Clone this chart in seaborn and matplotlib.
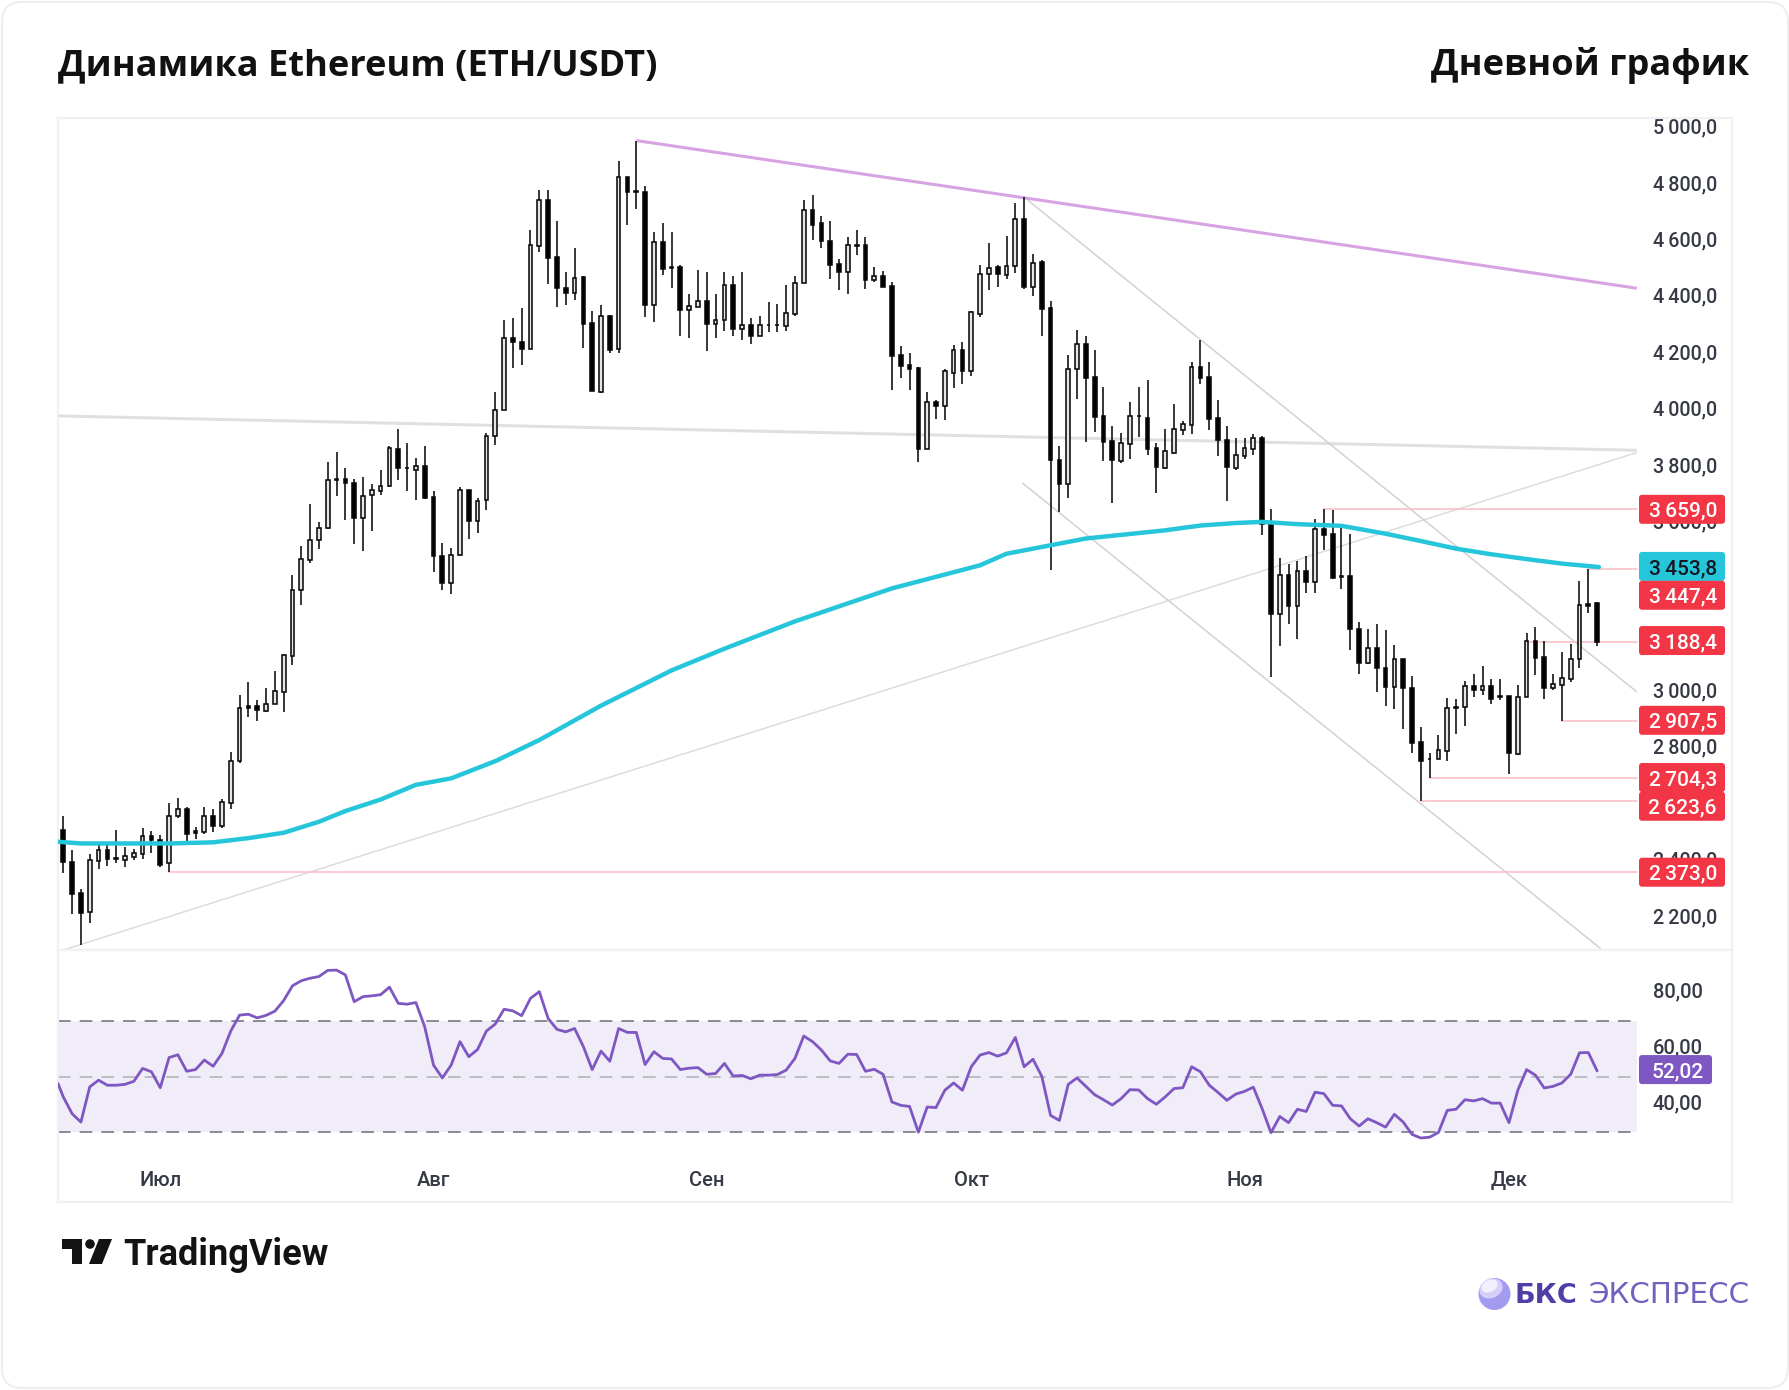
import numpy as np
import pandas as pd
import seaborn as sns
import matplotlib.pyplot as plt
from matplotlib.patches import FancyBboxPatch, Polygon, Circle, Ellipse
from matplotlib.transforms import IdentityTransform, ScaledTranslation

# daily candles
opens = [2521,2408,2296,2229,2411,2450,2421,2413,2425,2436,2498,2484,2402,2569,2594,2517,2513,2569,2536,2617,
         2767,2959,2959,2944,2969,3011,3138,3372,3478,3551,3593,3766,3766,3751,3628,3709,3724,3741,3874,3806,
         3797,3814,3703,3492,3396,3497,3726,3618,3690,3918,4012,4265,4253,4227,4592,4757,4553,4445,4426,4482,
         4319,4075,4343,4227,4839,4787,4786,4383,4607,4518,4518,4367,4376,4396,4317,4331,4456,4299,4313,4274,
         4314,4314,4310,4350,4462,4721,4674,4612,4530,4501,4596,4595,4471,4486,4450,4205,4169,4159,3874,4039,
         4024,4143,4225,4149,4350,4492,4518,4491,4523,4690,4449,4537,4374,3835,3747,4156,4246,4128,3990,3900,
         3830,3891,3991,3984,3876,3806,3859,3939,3956,4163,4128,3984,3906,3806,3849,3873,3913,3608,3286,3427,
         3316,3440,3401,3588,3570,3422,3421,3235,3114,3168,3097,3029,3127,3026,2832,2774,2772,2802,2958,2958,
         3031,3017,3031,2995,2995,2792,2993,3192,3133,3023,3037,3058,3126,3324,3326]
highs = [2569,2450,2313,2436,2479,2469,2521,2460,2454,2527,2517,2502,2617,2636,2604,2533,2604,2594,2629,2796,
         3001,3046,2982,3026,3084,3146,3426,3530,3678,3613,3828,3863,3805,3766,3774,3747,3799,3882,3945,3893,
         3839,3882,3724,3540,3522,3738,3726,3699,3930,4074,4332,4338,4374,4648,4793,4793,4680,4500,4584,4488,
         4362,4385,4348,4894,4839,4967,4804,4642,4674,4643,4524,4422,4506,4499,4422,4499,4488,4499,4338,4344,
         4393,4387,4456,4487,4757,4774,4698,4680,4545,4624,4650,4624,4518,4505,4465,4237,4213,4163,4075,4045,
         4157,4243,4254,4361,4524,4603,4524,4627,4745,4766,4565,4542,4397,3883,4205,4296,4272,4225,4092,3954,
         3930,4038,4092,4116,3895,3942,4033,3972,4181,4260,4181,4045,3954,3913,3913,3925,3917,3661,3487,3464,
         3475,3492,3623,3659,3655,3594,3570,3259,3235,3253,3229,3176,3127,3066,2887,2795,2857,2990,2984,3049,
         3073,3103,3056,3056,2995,3037,3218,3241,3192,3073,3152,3182,3404,3447.4,3330]
lows = [2367,2221,2113,2190,2383,2392,2402,2390,2413,2417,2440,2390,2373,2565,2479,2488,2508,2513,2527,2594,
        2759,2921,2909,2940,2969,2940,3107,3319,3469,3517,3590,3705,3622,3536,3511,3582,3709,3738,3761,3724,
        3690,3695,3436,3374,3359,3493,3555,3574,3657,3886,4012,4161,4172,4227,4573,4459,4376,4382,4400,4232,
        4077,4071,4214,4214,4669,4724,4341,4323,4491,4443,4274,4268,4376,4220,4268,4293,4274,4261,4244,4274,
        4286,4286,4293,4346,4462,4615,4586,4476,4435,4423,4562,4441,4465,4449,4083,4124,4083,3825,3874,3980,
        3974,4089,4102,4131,4341,4435,4447,4477,4497,4441,4417,4274,3442,3649,3700,4051,3897,3933,3830,3681,
        3824,3837,3915,3850,3718,3800,3854,3921,3927,4102,3939,3849,3688,3799,3837,3850,3566,3064,3173,3250,
        3200,3363,3363,3513,3412,3377,3161,3076,3111,3011,2962,2951,2878,2795,2623.6,2704.3,2772,2765,2861,2890,
        2991,3001,2969,2981,2721,2786,2993,3070,2985,3017,2907.5,3046,3094,3291,3173]
closes = [2406,2292,2227,2413,2450,2417,2417,2427,2438,2498,2486,2398,2569,2594,2508,2510,2569,2536,2619,2767,
          2952,2952,2946,2969,3013,3142,3372,3482,3551,3593,3761,3763,3751,3628,3707,3726,3743,3876,3805,3804,
          3814,3699,3492,3396,3497,3726,3618,3688,3918,4012,4265,4252,4227,4595,4757,4550,4443,4426,4480,4317,
          4077,4343,4225,4839,4784,4784,4383,4607,4510,4516,4364,4380,4396,4317,4331,4456,4299,4313,4274,4313,
          4312,4312,4356,4462,4721,4669,4610,4526,4501,4595,4594,4473,4486,4449,4202,4168,4155,3874,4039,4024,
          4148,4225,4148,4357,4493,4515,4492,4521,4690,4447,4534,4371,3832,3747,4157,4246,4125,3986,3897,3832,
          3893,3990,3989,3874,3809,3864,3942,3960,4163,4125,3980,3903,3809,3851,3876,3913,3608,3286,3427,3316,
          3440,3401,3588,3569,3416,3420,3233,3114,3168,3096,3029,3127,3023,2831,2765,2772,2804,2953,2952,3031,
          3017,3031,2987,2993,2794,2993,3192,3131,3023,3038,3060,3127,3318,3316,3188.4]

# EMA line, vertices read at these candle numbers
ema_x = [-0.6,2,6,12,17,21,25,29,32,36,40,44,49,54,61,69,75,83,94,99,104,107,111,116,125,129,133,136,140,145,150,154,158,162,166,170,174.2]
ema_y = [2479,2473,2473,2473,2477,2492,2511,2550,2588,2629,2681,2704,2765,2840,2962,3087,3164,3261,3378,3419,3460,3501,3525,3555,3584,3601,3610,3614,3606,3600,3572,3546,3519,3499,3482,3466,3453.8]

# RSI, one value a candle; the first is at the left edge of the panel
rsi_left = 47.5
rsi = [42.7,36.7,33.7,46.3,48.7,46.9,46.9,47.2,48.3,52.9,51.7,46.0,56.8,57.8,51.9,52.5,55.9,53.7,58.3,66.3,
       72.0,72.3,71.0,71.9,73.4,77.2,82.5,84.3,85.2,85.8,88.0,88.1,86.4,76.8,78.6,78.9,79.3,82.0,76.2,75.9,
       76.5,67.8,54.1,49.5,54.1,62.5,57.1,59.7,66.3,68.8,74.1,73.5,71.8,78.0,80.4,70.8,66.9,66.0,67.2,60.7,
       52.5,59.1,55.5,67.2,65.8,65.8,54.3,58.9,56.5,56.3,52.5,53.0,53.2,50.8,51.1,54.7,50.2,50.4,49.2,50.5,
       50.5,50.7,52.3,56.5,64.5,62.5,59.5,55.6,54.7,58.0,57.9,51.9,52.6,50.8,40.9,39.7,39.3,30.1,39.1,38.9,
       45.1,47.7,45.1,53.5,57.7,58.6,57.3,58.5,64.0,53.5,56.2,50.1,36.1,34.3,47.2,49.5,46.5,43.5,41.7,39.8,
       42.1,45.3,45.2,42.1,40.1,42.7,45.7,46.0,53.5,51.7,46.9,44.3,41.5,43.7,44.7,46.2,38.5,29.9,35.7,33.5,
       38.3,37.5,44.4,43.9,39.7,39.5,34.9,32.3,34.9,33.5,31.9,36.5,33.7,29.3,28.0,28.3,30.0,37.9,38.3,41.7,
       41.3,42.1,40.5,40.5,33.5,45.1,52.5,50.5,45.9,46.5,47.7,50.8,58.5,58.6,52.02]

# drawn lines: (x0, y0, x1, y1)
purple_line = (65, 4967, 178.5, 4443)
flat_line = (-0.6, 3990, 178.5, 3868)
rising_line = (-0.3, 2092, 178.5, 3860)
upper_line = (109, 4766, 178.5, 3011)
lower_line = (108.8, 3752, 174.4, 2100)

# thin red levels: start candle, price
level_x = [143, 173, 166, 170, 155, 154, 12]
level_y = [3659.0, 3447.4, 3188.4, 2907.5, 2704.3, 2623.6, 2373.0]

# price boxes on the right: centre of box, text, colour, text colour
box_y = [3658.6, 3456, 3353.6, 3193, 2910, 2707, 2605, 2371]
box_text = ['3\u2009659,0', '3\u2009453,8', '3\u2009447,4', '3\u2009188,4', '2\u2009907,5', '2\u2009704,3', '2\u2009623,6', '2\u2009373,0']
box_color = ['#f23645', '#26c6da', '#f23645', '#f23645', '#f23645', '#f23645', '#f23645', '#f23645']
box_tcolor = ['white', '#131722', 'white', 'white', 'white', 'white', 'white', 'white']

price_ticks = [5000, 4800, 4600, 4400, 4200, 4000, 3800, 3600, 3000, 2800, 2400, 2200]
price_labels = ['5\u2009000,0', '4\u2009800,0', '4\u2009600,0', '4\u2009400,0', '4\u2009200,0', '4\u2009000,0',
                '3\u2009800,0', '3\u2009600,0', '3\u2009000,0', '2\u2009800,0', '2\u2009400,0', '2\u2009200,0']
rsi_ticks = [80, 60, 40]
rsi_labels = ['80,00', '60,00', '40,00']
month_x = [11, 42, 73, 103, 134, 164]
month_labels = ['Июл', 'Авг', 'Сен', 'Окт', 'Ноя', 'Дек']

W, H = 1790, 1390
XMIN, XMAX = -0.6, 189.3
LINE_END = 178.5

sns.set_theme(style='white')
plt.rcParams['font.family'] = ['Roboto', 'DejaVu Sans']

fig = plt.figure(figsize=(W / 100, H / 100), dpi=100, facecolor='white')
ident = IdentityTransform()

fig.add_artist(FancyBboxPatch((2, 2), W - 4, H - 4, boxstyle='round,pad=0,rounding_size=20',
                              fc='white', ec='#eeeeef', lw=1.5, transform=ident, zorder=-5))

ax = fig.add_axes([58 / W, 1 - 950 / H, (1732 - 58) / W, (950 - 118) / H])
ax2 = fig.add_axes([58 / W, 1 - 1202 / H, (1732 - 58) / W, (1202 - 950) / H])

for a in (ax, ax2):
    a.set_xlim(XMIN, XMAX)
    a.set_facecolor('white')
    for s in a.spines.values():
        s.set_color('#f0f1f5')
        s.set_linewidth(1.6)

ax.set_ylim(2095, 5047)
ax2.set_ylim(5.1, 95.3)

# candles
df = pd.DataFrame({'x': np.arange(len(opens)), 'o': opens, 'h': highs, 'l': lows, 'c': closes})
df['up'] = df.c >= df.o
df['top'] = df[['o', 'c']].max(axis=1)
df['bot'] = df[['o', 'c']].min(axis=1)

ax.vlines(df.x, df.l, df.h, color='#0a0a0a', lw=1.15, zorder=3)
ax.bar(df.x, df.top - df.bot, bottom=df.bot, width=0.42,
       color=['#e6e6e6' if u else 'black' for u in df.up], edgecolor='#0a0a0a', linewidth=1.15, zorder=3.5)

# drawn lines under the candles
for ln, col, lw in [(flat_line, '#e0e0e0', 2.2), (rising_line, '#dcdcdc', 1.1),
                    (upper_line, '#d2d2d2', 1.1), (lower_line, '#d2d2d2', 1.1),
                    (purple_line, '#d8a3e2', 2.2)]:
    ax.plot([ln[0], ln[2]], [ln[1], ln[3]], color=col, lw=lw, zorder=2, solid_capstyle='butt')

for x0, y0 in zip(level_x, level_y):
    ax.plot([x0, LINE_END], [y0, y0], color='#f9bcc2', lw=1.1, zorder=2.5)

ema_df = pd.DataFrame({'x': ema_x, 'y': ema_y})
sns.lineplot(data=ema_df, x='x', y='y', ax=ax, color='#26c6da', lw=3.2, estimator=None, sort=False, zorder=4)

ax.set_xlabel('')
ax.set_ylabel('')
ax.set_xticks([])

tick_color = '#363a45'
shift = ScaledTranslation(0, 5 / 100, fig.dpi_scale_trans)
ax.yaxis.tick_right()
ax.set_yticks(price_ticks)
ax.set_yticklabels(price_labels, fontsize=14.2, color=tick_color, ha='left', fontweight='medium')
ax.tick_params(axis='y', length=0, pad=-57)
for t in ax.get_yticklabels():
    t.set_transform(t.get_transform() + shift)


def price_box(axis, yval, text, col, tcol, x0=1639, w=86, h=29):
    ypx = axis.transData.transform((0, yval))[1]
    axis.add_artist(FancyBboxPatch((x0, ypx - h / 2), w, h, boxstyle='round,pad=0,rounding_size=3',
                                   fc=col, ec='none', transform=ident, zorder=10, clip_on=False))
    axis.text(x0 + w - 8, ypx, text, transform=ident, ha='right', va='center_baseline', color=tcol,
              fontsize=15, fontweight='medium', zorder=11, clip_on=False)


for yv, tx, col, tcol in zip(box_y, box_text, box_color, box_tcolor):
    price_box(ax, yv, tx, col, tcol)

# RSI panel
ax2.axhspan(30, 70, xmin=0, xmax=(LINE_END - XMIN) / (XMAX - XMIN), color='#7e57c2', alpha=0.11, lw=0, zorder=1)
for lev, col in [(70, '#7f828c'), (50, '#b8b9bf'), (30, '#7f828c')]:
    ax2.plot([XMIN, LINE_END], [lev, lev], color=col, lw=1.3, dashes=(7, 5), zorder=2)

rsi_df = pd.DataFrame({'x': [XMIN] + list(range(len(rsi))), 'y': [rsi_left] + rsi})
sns.lineplot(data=rsi_df, x='x', y='y', ax=ax2, color='#7e57c2', lw=2.0, estimator=None, sort=False, zorder=4)

ax2.set_xlabel('')
ax2.set_ylabel('')
ax2.set_xticks(month_x)
ax2.set_xticklabels(month_labels, fontsize=14.5, color=tick_color, fontweight='medium')
ax2.tick_params(axis='x', length=0, pad=-22.5)

ax2.yaxis.tick_right()
ax2.set_yticks(rsi_ticks)
ax2.set_yticklabels(rsi_labels, fontsize=14.5, color=tick_color, ha='left', fontweight='medium')
ax2.tick_params(axis='y', length=0, pad=-57)
for t in ax2.get_yticklabels():
    t.set_transform(t.get_transform() + ScaledTranslation(0, 3 / 100, fig.dpi_scale_trans))

price_box(ax2, 52.5, '52,02', '#7e57c2', 'white', w=73)

# titles
fig.text(58 / W, 1 - 66 / H, 'Динамика Ethereum (ETH/USDT)', fontsize=26, fontweight='bold', color='#111111',
         family=['Open Sans', 'DejaVu Sans'], va='center', ha='left')
fig.text(1749 / W, 1 - 66 / H, 'Дневной график', fontsize=26, fontweight='bold', color='#111111',
         family=['Open Sans', 'DejaVu Sans'], va='center', ha='right')


def logo_px(pts):
    return [(x, H - y) for x, y in pts]


# TradingView logo
tv_t = [(62, 1239), (82, 1239), (82, 1264), (72, 1264), (72, 1249), (62, 1249)]
tv_s = [(99, 1239), (112, 1239), (102, 1264), (89, 1264)]
fig.add_artist(Polygon(logo_px(tv_t), closed=True, fc='#131313', ec='none', transform=ident))
fig.add_artist(Polygon(logo_px(tv_s), closed=True, fc='#131313', ec='none', transform=ident))
fig.add_artist(Circle((90, H - 1244), 4.8, fc='#131313', ec='none', transform=ident))
fig.text(123 / W, 1 - 1265 / H, 'TradingView', fontsize=26, fontweight='bold', color='#131313',
         family=['Roboto', 'DejaVu Sans'], va='baseline', ha='left')

# BCS logo
fig.add_artist(Circle((1494.5, H - 1294), 16, fc='#a39bf0', ec='none', transform=ident))
fig.add_artist(Ellipse((1491, H - 1288.5), 24, 19, angle=25, fc='#d5cffa', ec='none', transform=ident))
fig.add_artist(Ellipse((1489.5, H - 1286), 17, 12, angle=25, fc='#f3effd', ec='none', transform=ident))
fig.text(1515 / W, 1 - 1303 / H, 'БКС', fontsize=19.5, fontweight='bold', color='#4d3fa5',
         family=['DejaVu Sans'], va='baseline', ha='left')
fig.text(1588 / W, 1 - 1303 / H, 'ЭКСПРЕСС', fontsize=21.2, color='#6d62be',
         family=['DejaVu Sans'], va='baseline', ha='left')

fig.savefig('out.png', dpi=100)
plt.close(fig)
